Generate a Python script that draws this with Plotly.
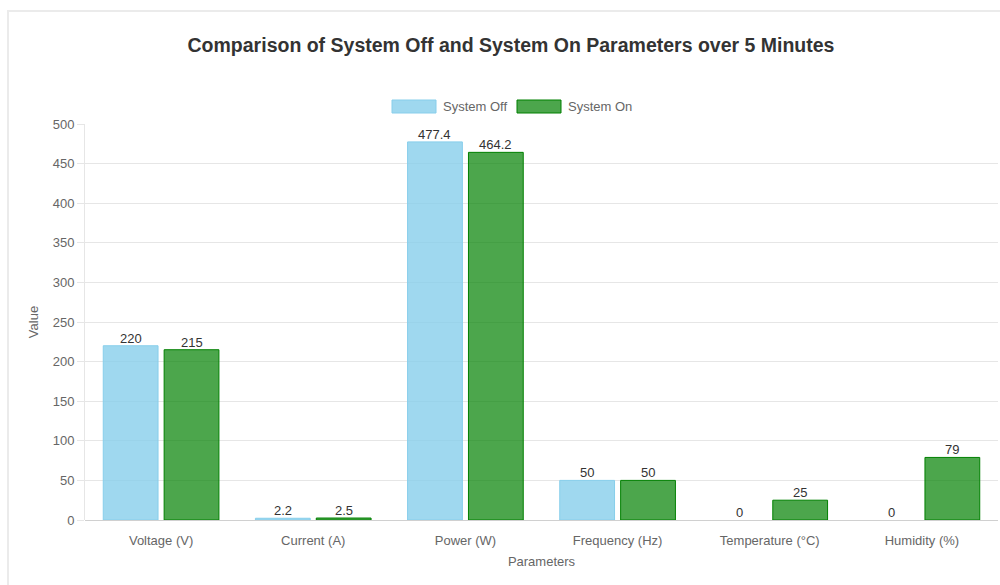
import plotly.graph_objects as go

# Measured parameters for both system states
categories = ["Voltage (V)", "Current (A)", "Power (W)", "Frequency (Hz)", "Temperature (°C)", "Humidity (%)"]
system_off = [220, 2.2, 477.4, 50, 0, 0]
system_on = [215, 2.5, 464.2, 50, 25, 79]
y_ticks = [0, 50, 100, 150, 200, 250, 300, 350, 400, 450, 500]

FONT = "Liberation Sans, Arial, Helvetica, sans-serif"
FS = 13
W, H = 1000, 585
L, R, T, B = 85, 2, 124, 65
PW, PH = W - L - R, H - T - B
BARGAP = 0.2
GROUPGAP = 0.1


def px_x(px):
    return (px - L) / PW


def px_y(py):
    return (H - B - py) / PH


off_fill = "rgba(135,206,235,0.8)"
off_line = "rgba(135,206,235,1)"
on_fill = "rgba(0,128,0,0.7)"
on_line = "rgba(0,128,0,1)"

series = [
    ("System Off", system_off, off_fill, off_line, -1),
    ("System On", system_on, on_fill, on_line, 1),
]

# horizontal offset of each bar centre from its category centre, in pixels
cat_px = PW / len(categories)
slot_px = cat_px * (1 - BARGAP) / 2

fig = go.Figure()
annotations = []
for name, vals, fill, line, side in series:
    fig.add_trace(go.Bar(
        x=categories, y=vals, name=name,
        marker=dict(color=fill,
                    line=dict(color=line, width=[1 if v else 0 for v in vals])),
        hoverinfo="x+y",
    ))
    for c, v in zip(categories, vals):
        annotations.append(dict(
            x=c, y=v, xref="x", yref="y", text=f"{v:g}", showarrow=False,
            xanchor="center", yanchor="bottom", xshift=side * slot_px / 2, yshift=-2,
            font=dict(family=FONT, size=FS, color="#333"),
        ))

shapes = [
    # card outline
    dict(type="rect", xref="paper", yref="paper",
         x0=px_x(8), x1=px_x(1040), y0=px_y(11), y1=px_y(640),
         line=dict(color="#ebebeb", width=2), fillcolor="rgba(0,0,0,0)", layer="below"),
    # legend swatches
    dict(type="rect", xref="paper", yref="paper",
         x0=px_x(392), x1=px_x(436), y0=px_y(113), y1=px_y(100),
         line=dict(color=off_line, width=1), fillcolor=off_fill),
    dict(type="rect", xref="paper", yref="paper",
         x0=px_x(517), x1=px_x(561), y0=px_y(113), y1=px_y(100),
         line=dict(color=on_line, width=1), fillcolor=on_fill),
]

annotations += [
    dict(text="System Off", xref="paper", yref="paper", x=px_x(441), y=px_y(106.5),
         xanchor="left", yanchor="middle", showarrow=False,
         font=dict(family=FONT, size=FS, color="#666")),
    dict(text="System On", xref="paper", yref="paper", x=px_x(566), y=px_y(106.5),
         xanchor="left", yanchor="middle", showarrow=False,
         font=dict(family=FONT, size=FS, color="#666")),
]

fig.update_layout(
    width=W, height=H,
    margin=dict(l=L, r=R, t=T, b=B),
    paper_bgcolor="white", plot_bgcolor="white",
    barmode="group", bargap=BARGAP, bargroupgap=GROUPGAP,
    showlegend=False,
    title=dict(text="<b>Comparison of System Off and System On Parameters over 5 Minutes</b>",
               x=0.511, xanchor="center", y=1 - 45 / H, yanchor="middle",
               font=dict(family=FONT, size=19.5, color="#333")),
    font=dict(family=FONT, size=FS, color="#666"),
    shapes=shapes, annotations=annotations,
    xaxis=dict(
        showgrid=False, zeroline=False, showline=False, ticks="",
        ticklabelstandoff=11,
        tickfont=dict(family=FONT, size=FS, color="#666"),
        title=dict(text="Parameters", standoff=9, font=dict(family=FONT, size=FS, color="#666")),
    ),
    yaxis=dict(
        range=[0, 500], tickvals=y_ticks,
        showgrid=True, gridcolor="#e6e6e6", gridwidth=1,
        zeroline=True, zerolinecolor="#d0d0d0", zerolinewidth=1,
        showline=True, linecolor="#e6e6e6", linewidth=1,
        ticks="outside", ticklen=7, tickcolor="#e6e6e6",
        tickfont=dict(family=FONT, size=FS, color="#666"),
        title=dict(text="Value", standoff=11, font=dict(family=FONT, size=FS, color="#666")),
    ),
)

fig.write_html("out.html")
